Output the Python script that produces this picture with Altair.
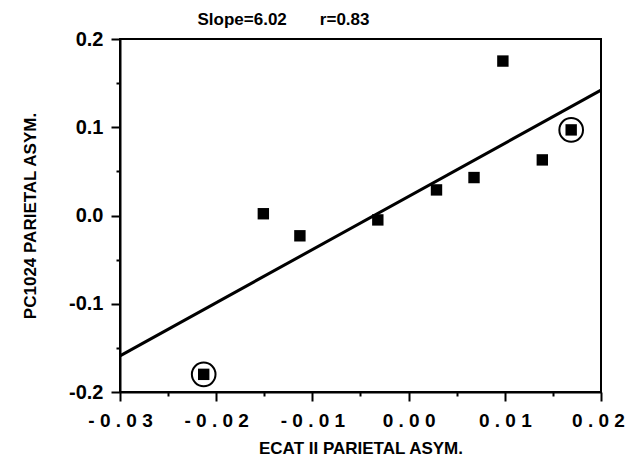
import altair as alt
import pandas as pd

# data
x_vals = [-0.0213, -0.0151, -0.0113, -0.0032, 0.0029, 0.0068, 0.0098, 0.0139, 0.0169]
y_vals = [-0.180, 0.002, -0.023, -0.005, 0.029, 0.043, 0.175, 0.063, 0.097]
circled = [True, False, False, False, False, False, False, False, True]
line_x = [-0.03, 0.02]
line_y = [-0.159, 0.142]
x_ticks = [-0.03, -0.025, -0.02, -0.015, -0.01, -0.005, 0.0, 0.005, 0.01, 0.015, 0.02]
y_ticks = [-0.2, -0.15, -0.1, -0.05, 0.0, 0.05, 0.1, 0.15, 0.2]

pts = pd.DataFrame({"x": x_vals, "y": y_vals, "c": circled})
ln = pd.DataFrame({"x": line_x, "y": line_y})

FONT = "Liberation Sans"

xscale = alt.Scale(domain=[-0.03, 0.02], nice=False, zero=False)
yscale = alt.Scale(domain=[-0.2, 0.2], nice=False, zero=False)

x_major = "abs(round(datum.value*100) - datum.value*100) < 0.001"
y_major = "abs(round(datum.value*10) - datum.value*10) < 0.001"

xaxis = alt.Axis(
    values=x_ticks,
    title="ECAT II PARIETAL ASYM.",
    labelExpr="(" + x_major + ") ? join(split((datum.value < -0.0001 ? '-' : '') + format(abs(datum.value), '.2f'), ''), ' ') : ''",
    tickSize={"condition": {"test": x_major, "value": 9}, "value": 4},
    tickColor="black", tickWidth=2,
    domainColor="black", domainWidth=2,
    labelFont=FONT, labelFontWeight="bold", labelFontSize=19, labelColor="black",
    labelPadding=10, labelFlush=False, labelOverlap=False,
    labelOffset={"condition": {"test": "datum.value > 0.019", "value": -3}, "value": 0},
    titleFont=FONT, titleFontWeight="bold", titleFontSize=17, titleColor="black",
    titlePadding=10, grid=False,
)
yaxis = alt.Axis(
    values=y_ticks,
    title="PC1024 PARIETAL ASYM.",
    labelExpr="(" + y_major + ") ? (datum.value < -0.0001 ? '-' : '') + format(abs(datum.value), '.1f') : ''",
    tickSize={"condition": {"test": y_major, "value": 9}, "value": 4},
    tickColor="black", tickWidth=2,
    domainColor="black", domainWidth=2,
    labelFont=FONT, labelFontWeight="bold", labelFontSize=20, labelColor="black",
    labelPadding=8, labelFlush=False, labelOverlap=False,
    titleFont=FONT, titleFontWeight="bold", titleFontSize=17, titleColor="black",
    titlePadding=29, grid=False,
)

line = alt.Chart(ln).mark_line(color="black", strokeWidth=3).encode(
    x=alt.X("x:Q", scale=xscale, axis=xaxis),
    y=alt.Y("y:Q", scale=yscale, axis=yaxis),
)
squares = alt.Chart(pts).mark_point(shape="square", filled=True, color="black", opacity=1, size=130).encode(
    x=alt.X("x:Q", scale=xscale),
    y=alt.Y("y:Q", scale=yscale),
)
rings = alt.Chart(pts).transform_filter("datum.c").mark_point(
    shape="circle", filled=False, color="black", opacity=1, size=560, strokeWidth=2
).encode(
    x=alt.X("x:Q", scale=xscale),
    y=alt.Y("y:Q", scale=yscale),
)

chart = alt.layer(line, squares, rings).properties(
    width=481,
    height=353,
    background="white",
    title=alt.TitleParams(
        "Slope=6.02\u00a0\u00a0\u00a0\u00a0\u00a0\u00a0\u00a0r=0.83",
        font=FONT, fontSize=17, fontWeight="bold", color="black",
        anchor="middle", dx=-77, offset=0,
    ),
    autosize=alt.AutoSizeParams(type="none"),
    padding={"left": 112, "top": 31, "right": 24, "bottom": 68},
).configure_view(stroke="black", strokeWidth=2)

chart.save("out.html", embed_options={"renderer": "svg", "actions": False})
